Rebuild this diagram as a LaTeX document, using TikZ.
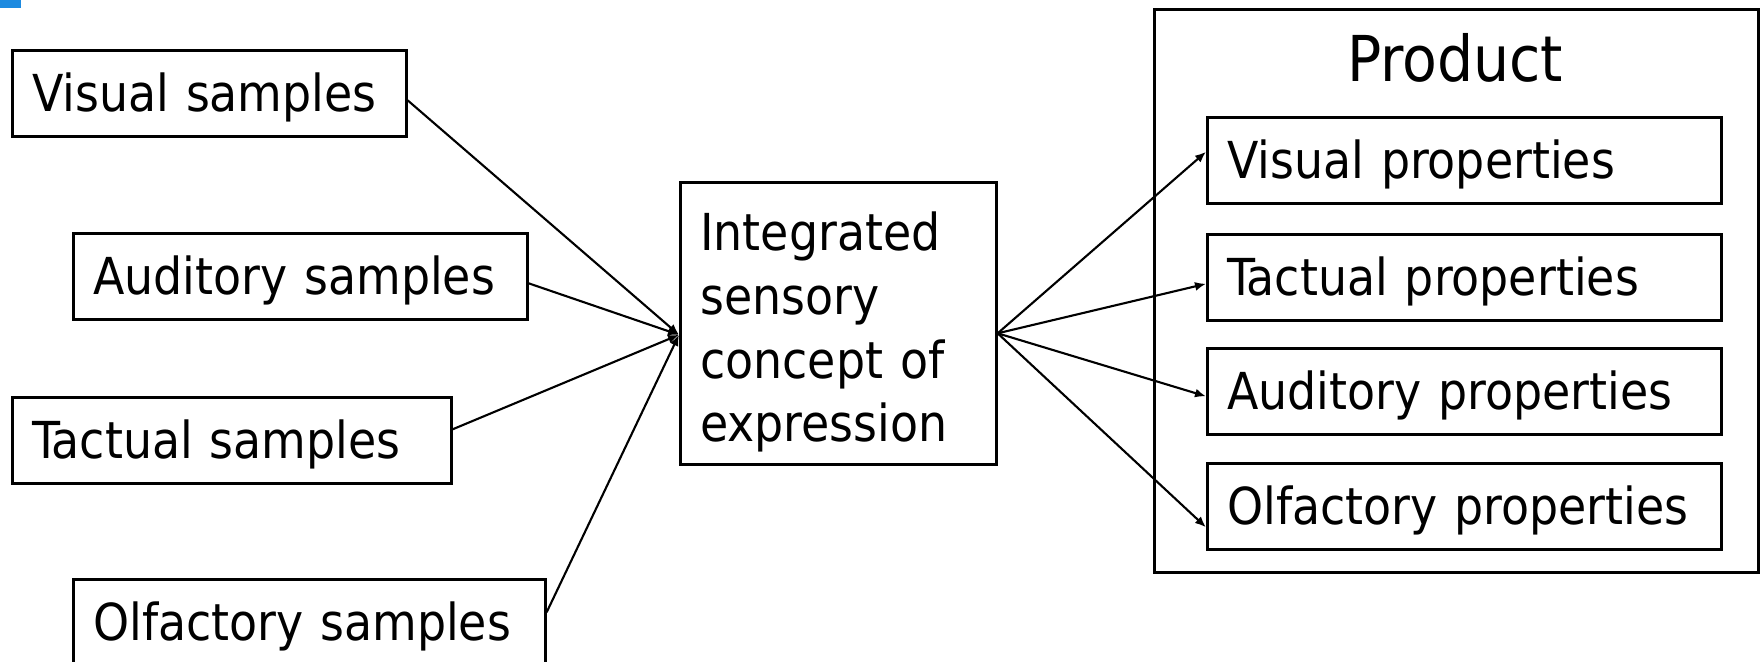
\documentclass[tikz,border=0pt]{standalone}
\usepackage{fontspec}
\setmainfont{DejaVu Sans Condensed}
\usetikzlibrary{arrows.meta}
\definecolor{cornerblue}{RGB}{29,138,224}

\begin{document}
\begin{tikzpicture}[
        box/.style={draw, line width=0.75pt, anchor=north west, inner xsep=0.2cm, align=left,
            font=\fontsize{14.5}{18.2}\selectfont},
        item/.style={box, minimum height=0.86cm, text height=1.28em, text depth=0.24em},
        feed/.style={-{Latex[length=1.1mm,width=0.9mm]}, line width=0.6pt}
    ]
        \useasboundingbox (0,0) rectangle (17.63,-6.62);
        \fill[cornerblue] (0,0) rectangle (0.21,-0.08);

        % samples
        \node [item, text width=3.54cm] (S1) at (0.11,-0.49) {Visual samples};
        \node [item, text width=4.14cm] (S2) at (0.72,-2.32) {Auditory samples};
        \node [item, text width=3.99cm] (S3) at (0.11,-3.96) {Tactual samples};
        \node [item, text width=4.32cm] (S4) at (0.72,-5.78) {Olfactory samples};

        % concept
        \node [box, text width=2.76cm, minimum height=2.79cm] (C) at (6.79,-1.81)
            {\rule{0pt}{1.1em}Integrated\\sensory\\concept of\\expression};

        % product and its properties
        \node [draw, line width=0.75pt, anchor=north west, inner sep=0pt,
            minimum width=6.04cm, minimum height=5.63cm] (P) at (11.53,-0.08) {};
        \node [anchor=base, font=\fontsize{18}{22}\selectfont] (PL) at (14.55,-0.82) {Product};
        \node [item, text width=4.74cm] (P1) at (12.06,-1.16) {Visual properties};
        \node [item, text width=4.74cm] (P2) at (12.06,-2.33) {Tactual properties};
        \node [item, text width=4.74cm] (P3) at (12.06,-3.47) {Auditory properties};
        \node [item, text width=4.74cm] (P4) at (12.06,-4.62) {Olfactory properties};

        \coordinate (hub) at ([yshift=-0.115cm]C.west);
        \coordinate (fan) at ([yshift=-0.1cm]C.east);

        \draw[feed] ([yshift=-0.07cm]S1.east) -- (hub);
        \draw[feed] ([yshift=-0.07cm]S2.east) -- (hub);
        \draw[feed] ([yshift=0.11cm]S3.east) -- (hub);
        \draw[feed] ([yshift=0.10cm]S4.east) -- (hub);

        \draw[feed] (fan) -- ([yshift=0.085cm]P1.west);
        \draw[feed] (fan) -- ([yshift=-0.065cm]P2.west);
        \draw[feed] (fan) -- ([yshift=-0.05cm]P3.west);
        \draw[feed] (fan) -- ([yshift=-0.21cm]P4.west);
    \end{tikzpicture}
\end{document}
